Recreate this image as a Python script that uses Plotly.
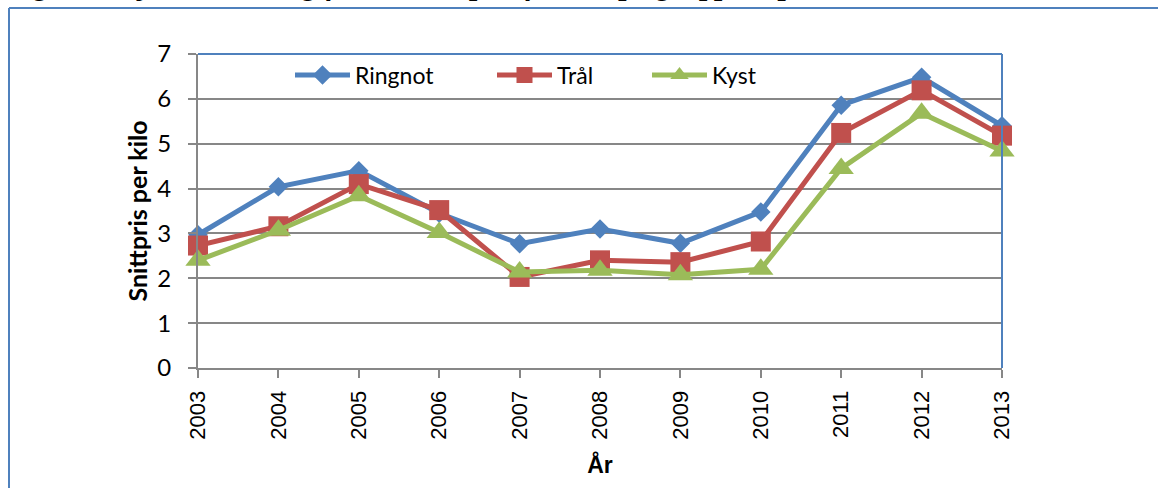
import plotly.graph_objects as go

years = [2003, 2004, 2005, 2006, 2007, 2008, 2009, 2010, 2011, 2012, 2013]
year_labels = [str(y) for y in years]
ringnot = [2.97, 4.04, 4.40, 3.45, 2.77, 3.10, 2.78, 3.48, 5.86, 6.48, 5.40]
tral = [2.73, 3.16, 4.10, 3.52, 2.03, 2.40, 2.36, 2.82, 5.24, 6.19, 5.18]
kyst = [2.40, 3.07, 3.84, 3.02, 2.14, 2.18, 2.08, 2.20, 4.45, 5.68, 4.84]
y_ticks = [0, 1, 2, 3, 4, 5, 6, 7]

caption = "Figur 4: Gjennomsnittlig førstehåndspris for sild på grupper i perioden 2003 - 2013"

W, H = 1158, 488
L, R, T, B = 198, 156, 54, 120
pw, ph = W - L - R, H - T - B

def px(x):
    return (x - L) / pw

def py(y):
    return (H - B - y) / ph

fig = go.Figure()
series = [
    ("Ringnot", ringnot, "#4F81BD", "diamond", 15, "legend", 290),
    ("Trål", tral, "#C0504D", "square", 20, "legend2", 492),
    ("Kyst", kyst, "#9BBB59", "triangle-up", 22, "legend3", 647),
]
legend_font = dict(family="Lato", size=23, color="black")
legends = {}
for name, vals, col, sym, sz, lg, lx in series:
    fig.add_trace(go.Scatter(
        x=years, y=vals, name=name, mode="lines+markers",
        line=dict(color=col, width=5),
        marker=dict(symbol=sym, size=sz, color=col, line=dict(width=0)),
        cliponaxis=False, legend=lg,
    ))
    legends[lg] = dict(
        orientation="h", x=px(lx), y=py(75), xanchor="left", yanchor="middle",
        font=legend_font, bgcolor="rgba(0,0,0,0)", itemwidth=55,
    )

frame = "#4F81BD"
grid = "#878787"
fig.update_layout(
    width=W, height=H,
    margin=dict(l=L, r=R, t=T, b=B, autoexpand=False),
    paper_bgcolor="white", plot_bgcolor="white",
    showlegend=True,
    **legends,
    xaxis=dict(
        range=[2003, 2013], tickvals=years, ticktext=year_labels,
        tickangle=-90, ticks="outside", ticklen=8, tickwidth=2, tickcolor=grid,
        showline=True, linecolor=grid, linewidth=2, showgrid=False, zeroline=False,
        ticklabelstandoff=4,
        tickfont=dict(family="Liberation Sans", size=22, color="black"),
        title=dict(text="<b>År</b>", font=dict(family="Liberation Sans", size=23, color="black"), standoff=18),
        automargin=False,
    ),
    yaxis=dict(
        range=[0, 7], tickvals=y_ticks, ticks="outside", ticklen=8, tickwidth=2, tickcolor=grid,
        showline=True, linecolor=grid, linewidth=2, showgrid=True, gridcolor=grid, gridwidth=2,
        zeroline=False, ticklabelstandoff=12,
        tickfont=dict(family="Lato", size=24, color="black"),
        title=dict(text="<b>Snittpris per kilo</b>", font=dict(family="Lato", size=25, color="black"), standoff=3),
        automargin=False,
    ),
    shapes=[
        dict(type="line", xref="paper", yref="paper", x0=0, x1=1, y0=1, y1=1, line=dict(color=frame, width=2)),
        dict(type="line", xref="paper", yref="paper", x0=1, x1=1, y0=0, y1=1, line=dict(color=frame, width=2)),
        dict(type="line", xref="paper", yref="paper", x0=px(9), x1=px(1160), y0=py(8), y1=py(8), line=dict(color=frame, width=2)),
        dict(type="line", xref="paper", yref="paper", x0=px(9), x1=px(9), y0=py(8), y1=py(490), line=dict(color=frame, width=2)),
    ],
    annotations=[
        dict(text="<b><i>" + caption + "</i></b>", xref="paper", yref="paper",
             x=px(4), y=py(3.5), xanchor="left", yanchor="bottom", showarrow=False,
             font=dict(family="Liberation Serif", size=30, color="black")),
    ],
)

fig.write_html("out.html", config={"displayModeBar": False},
               post_script="document.body.style.margin='0';document.body.style.overflow='hidden';")
